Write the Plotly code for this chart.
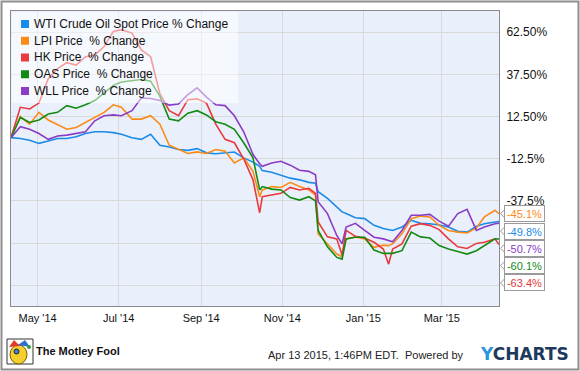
import plotly.graph_objects as go

# ---------------- data ----------------
dates = [
    "2014-04-11", "2014-04-18", "2014-04-25", "2014-05-02", "2014-05-09", "2014-05-16",
    "2014-05-23", "2014-05-30", "2014-06-06", "2014-06-13", "2014-06-20", "2014-06-27",
    "2014-07-03", "2014-07-11", "2014-07-18", "2014-07-25", "2014-08-01", "2014-08-08",
    "2014-08-15", "2014-08-22", "2014-08-29", "2014-09-05", "2014-09-12", "2014-09-19",
    "2014-09-26", "2014-10-03", "2014-10-10", "2014-10-15", "2014-10-17", "2014-10-24",
    "2014-10-31", "2014-11-07", "2014-11-14", "2014-11-21", "2014-11-26", "2014-11-28",
    "2014-12-05", "2014-12-12", "2014-12-16", "2014-12-19", "2014-12-26", "2015-01-02",
    "2015-01-09", "2015-01-16", "2015-01-20", "2015-01-23", "2015-01-30", "2015-02-06",
    "2015-02-13", "2015-02-20", "2015-02-27", "2015-03-06", "2015-03-13", "2015-03-20",
    "2015-03-27", "2015-04-02", "2015-04-10", "2015-04-13",
]

wti = [0, -0.5, -1.5, -3.4, -2, -0.5, -0.5, 0.5, 2.5, 3.5, 3.5, 3, 2, 0, -1, 2, -4.5,
       -5.5, -7, -7.5, -6.5, -9, -9.5, -9, -8.5, -12, -14.5,
       -17,
       -19.5, -20.5, -22.2, -24, -25, -26.5,
       -27,
       -32, -36, -41,
       -44,
       -45, -47.5, -48, -52, -53.8,
       -54.5,
       -55, -53, -49, -50.8, -51, -51.8, -53, -55.5, -56, -52.5, -51, -50,
       -49.8]

lpi = [0, 12.5, 8, 15, 10.5, 7.5, 5, 6, 9, 11.5, 15, 19.5, 18, 11, 11, 13, 8, -4.5,
       -7, -9.4, -8.4, -9.4, -7, -8, -15, -12, -20,
       -35,
       -31, -29, -29.5, -26.5, -29, -31,
       -34,
       -57, -63, -69,
       -70.6,
       -60, -58.8, -60, -65, -63.7,
       -64,
       -63, -57, -48, -46.5, -47, -52, -55, -56, -56.5, -53.5, -47, -43,
       -45.1]

hk = [0, 18, 17, 20.5, 35, 41, 44.5, 43, 48, 49, 54, 63, 64, 62, 52, 48, 26, 16, 13,
      22.5, 23, 20.5, 8, -1, -3, -12.5, -25,
      -44.5,
      -35, -34, -33, -29.5, -31, -30,
      -33,
      -50, -58.8, -60,
      -69.6,
      -55, -58.5, -59.5, -62, -66,
      -75,
      -66, -63, -52.5, -51, -52, -54.5, -60, -64.7, -65.7, -62.7, -62, -60,
      -63.4]

oas = [0, 12, 9, 10.5, 14, 15, 19, 17.5, 19.5, 22, 26.5, 31, 33, 34, 34.5, 33.5, 24.5,
       11, 10, 14.5, 16, 13.5, 9.5, 8, 5, -3, -12,
       -31,
       -29, -30.5, -31, -35.5, -37, -35,
       -37.5,
       -55, -64.7, -71,
       -72,
       -60, -59, -59, -66.6, -68.6,
       -68.6,
       -68.6, -67, -56, -58.8, -59.5, -64, -66, -67.5, -69, -67, -64, -60,
       -60.1]

wll = [0, 6.5, 5, 2.5, -1, 1, 1.5, 2.5, 3.5, 10, 13, 13.5, 13, 16, 23.5, 23.2, 22,
       19.3, 20, 25.5, 29.5, 24, 19.5, 19, 13, 3.5, -10,
       -15.5,
       -17, -15, -14, -16.3, -19.3, -20,
       -22,
       -38, -45, -58,
       -63,
       -53, -50.8, -55, -59, -60,
       -61,
       -61.7, -55, -46, -46, -45.5, -49.5, -52.5, -45, -42.5, -55, -53, -51,
       -50.7]

names = ["WTI Crude Oil Spot Price % Change", "LPI Price\u00a0 % Change",
         "HK Price\u00a0 % Change", "OAS Price\u00a0 % Change", "WLL Price\u00a0 % Change"]
colors = ["#1a8be8", "#fb8a17", "#e8393c", "#138a13", "#8a3cc4"]
y_tickvals = [62.5, 37.5, 12.5, -12.5, -37.5, -62.5, -87.5]
y_ticktext = ["62.50%", "37.50%", "12.50%", "-12.5%", "-37.5%", "", ""]
x_range = ["2014-04-11", "2015-04-13"]
y_range = [-99.8, 75.1]

# ---------------- layout helpers ----------------
W, H = 580, 371
ML, MR, MT, MB = 11, 81, 11, 65
PW, PH = W - ML - MR, H - MT - MB
FONT = "Liberation Sans, Arial, sans-serif"


def px(x):
    return (x - ML) / PW


def py(y):
    return (H - MB - y) / PH


fig = go.Figure()
for name, color, vals in zip(names, colors, [wti, lpi, hk, oas, wll]):
    fig.add_trace(go.Scatter(x=dates, y=vals, mode="lines", name=name,
                             line=dict(color=color, width=1.6),
                             showlegend=False, hoverinfo="skip"))

shapes = []
annotations = []

# legend box (semi-transparent, over lines)
shapes.append(dict(type="rect", xref="paper", yref="paper",
                   x0=px(12), x1=px(238), y0=py(12), y1=py(103),
                   fillcolor="rgba(255,255,255,0.5)", line=dict(width=0), layer="above"))
for i, (name, color) in enumerate(zip(names, colors)):
    cy = 24 + 16.75 * i
    shapes.append(dict(type="rect", xref="paper", yref="paper",
                       x0=px(21), x1=px(29), y0=py(cy - 4), y1=py(cy + 4),
                       fillcolor=color, line=dict(width=0), layer="above"))
    annotations.append(dict(xref="paper", yref="paper", x=px(31.5), y=py(cy),
                            xanchor="left", yanchor="middle", text=name, showarrow=False,
                            font=dict(family=FONT, size=12, color="#111")))

# end-value callouts, stacked
ppu = PH / (y_range[1] - y_range[0])
gap = 17.3 / ppu
ends = sorted([(vals[-1], c) for c, vals in zip(colors, [wti, lpi, hk, oas, wll])],
              key=lambda t: -t[0])
prev = None
for v, c in ends:
    ly = v if prev is None else min(v, prev - gap)
    prev = ly
    shapes.append(dict(type="path", xref="paper", yref="y",
                       path=f"M {px(505)},{ly + 4.5 / ppu} L {px(500.5)},{ly} L {px(505)},{ly - 4.5 / ppu}",
                       line=dict(color="#9a9a9a", width=1), layer="above"))
    annotations.append(dict(xref="paper", yref="y", x=1, y=ly, xanchor="left",
                            yanchor="middle", xshift=5, text=f"{v:.1f}%", showarrow=False,
                            font=dict(family=FONT, size=11, color=c), bgcolor="white",
                            bordercolor="#9a9a9a", borderwidth=1, borderpad=1,
                            width=37, height=13, align="center"))

# outer frame
shapes.append(dict(type="rect", xref="paper", yref="paper",
                   x0=px(1.5), x1=px(578.5), y0=py(1.5), y1=py(369.5),
                   line=dict(color="#8e8e8e", width=2), fillcolor="rgba(0,0,0,0)", layer="above"))

# Motley Fool jester logo (simplified)
shapes += [
    dict(type="rect", xref="paper", yref="paper", x0=px(7), x1=px(33), y0=py(339), y1=py(364),
         fillcolor="#ffffff", line=dict(color="#333", width=1)),
    dict(type="circle", xref="paper", yref="paper", x0=px(10), x1=px(27), y0=py(345), y1=py(364),
         fillcolor="#f4cf2e", line=dict(color="#7a5a00", width=1)),
    dict(type="path", xref="paper", yref="paper",
         path=f"M {px(9)},{py(347)} L {px(14)},{py(340)} L {px(20)},{py(346)} Z",
         fillcolor="#e23b2e", line=dict(width=0)),
    dict(type="path", xref="paper", yref="paper",
         path=f"M {px(18)},{py(345)} L {px(25)},{py(340)} L {px(30)},{py(347)} Z",
         fillcolor="#2c6fd1", line=dict(width=0)),
    dict(type="circle", xref="paper", yref="paper", x0=px(27), x1=px(31), y0=py(345), y1=py(349),
         fillcolor="#2c9a3a", line=dict(width=0)),
    dict(type="circle", xref="paper", yref="paper", x0=px(14), x1=px(19), y0=py(349), y1=py(354),
         fillcolor="#3a7fd8", line=dict(color="#222", width=1)),
]
annotations += [
    dict(xref="paper", yref="paper", x=px(34), y=py(350.5), xanchor="left", yanchor="middle",
         text="<b>The Motley Fool</b>", showarrow=False,
         font=dict(family=FONT, size=11, color="#111")),
    dict(xref="paper", yref="paper", x=px(466), y=py(355), xanchor="right", yanchor="middle",
         text="Apr 13 2015, 1:46PM EDT.\u00a0 Powered by", showarrow=False,
         font=dict(family=FONT, size=11, color="#222")),
    dict(xref="paper", yref="paper", x=px(571), y=py(354), xanchor="right", yanchor="middle",
         text="<b><span style='color:#2b95dc'>Y</span>CHARTS</b>", showarrow=False,
         font=dict(family="DejaVu Sans, sans-serif", size=17, color="#1d3a5e")),
]

fig.update_layout(
    width=W, height=H, autosize=False,
    margin=dict(l=ML, r=MR, t=MT, b=MB, pad=0),
    paper_bgcolor="white", plot_bgcolor="#eaf0fb",
    showlegend=False,
    shapes=shapes, annotations=annotations,
    font=dict(family=FONT, color="#111"),
)
fig.update_xaxes(type="date", range=x_range, tickformat="%b '%y", dtick="M2",
                 tick0="2014-05-01", showgrid=True, gridcolor="#d9d9d9", gridwidth=1,
                 showline=True, mirror=True, linecolor="#8a8a8a", linewidth=1,
                 ticks="", tickfont=dict(family=FONT, size=11, color="#111"),
                 ticklabelstandoff=2, zeroline=False)
fig.update_yaxes(side="right", range=y_range, tickvals=y_tickvals, ticktext=y_ticktext,
                 showgrid=True, gridcolor="#d9d9d9", gridwidth=1, zeroline=False,
                 showline=True, mirror=True, linecolor="#8a8a8a", linewidth=1,
                 ticks="", tickfont=dict(family=FONT, size=12, color="#111"),
                 ticklabelstandoff=4)

fig.write_html("out.html")
